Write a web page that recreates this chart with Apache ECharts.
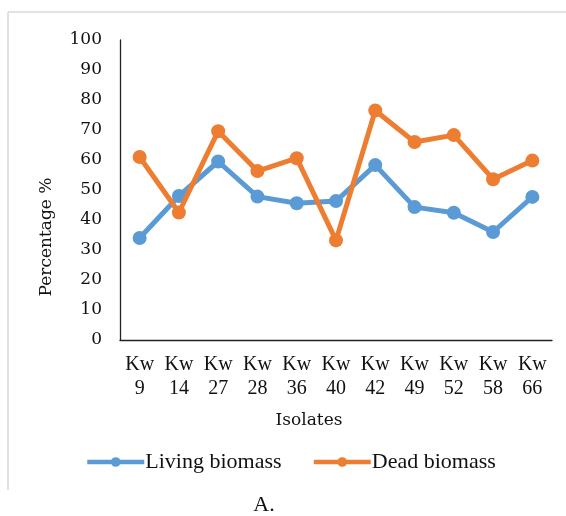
<!DOCTYPE html>
<html>
<head>
<meta charset="utf-8">
<script src="https://cdn.jsdelivr.net/npm/echarts@6/dist/echarts.min.js"></script>
<style>
  html, body { margin: 0; padding: 0; background: #fff; }
  #chart { width: 566px; height: 516px; }
</style>
</head>
<body>
<div id="chart"></div>
<script>
// Isolates on the category axis
const isolates = ['Kw\n9', 'Kw\n14', 'Kw\n27', 'Kw\n28', 'Kw\n36', 'Kw\n40', 'Kw\n42', 'Kw\n49', 'Kw\n52', 'Kw\n58', 'Kw\n66'];
// Percentage removed by each biomass type
const livingBiomass = [34, 48, 59.5, 47.8, 45.6, 46.3, 58.3, 44.3, 42.4, 36, 47.7];
const deadBiomass = [61, 42.5, 69.6, 56.3, 60.6, 33.2, 76.5, 66, 68.3, 53.6, 59.8];
// Y axis range
const yMin = 0, yMax = 100, yStep = 10;

const serif = '"Liberation Serif", "Times New Roman", serif';
const wideSerif = '"DejaVu Serif", serif';

const chart = echarts.init(document.getElementById('chart'), null, { renderer: 'canvas' });

chart.setOption({
  animation: false,
  backgroundColor: '#fff',
  grid: { left: 120, top: 40, right: 14, bottom: 176, containLabel: false },
  legend: {
    left: 80,
    top: 446,
    itemWidth: 57,
    itemHeight: 12,
    itemGap: 30,
    lineStyle: { width: 4.5 },
    textStyle: { fontFamily: serif, fontSize: 22, color: '#111', padding: [0, 0, 0, -4] },
    data: ['Living biomass', 'Dead biomass']
  },
  xAxis: {
    type: 'category',
    data: isolates,
    boundaryGap: true,
    axisLine: { lineStyle: { color: '#222', width: 1.3 } },
    axisTick: { show: false },
    axisLabel: {
      interval: 0,
      margin: 13,
      fontFamily: serif,
      fontSize: 20,
      lineHeight: 24,
      color: '#111'
    },
    splitLine: { show: false }
  },
  yAxis: {
    type: 'value',
    min: yMin,
    max: yMax,
    interval: yStep,
    axisLine: { show: true, lineStyle: { color: '#222', width: 1.3 } },
    axisTick: { show: false },
    axisLabel: { margin: 18, fontFamily: wideSerif, fontSize: 17, color: '#111' },
    splitLine: { show: false }
  },
  graphic: [
    { type: 'line', shape: { x1: 8, y1: 12, x2: 566, y2: 12 }, style: { stroke: '#d9d9d9', lineWidth: 1.5 } },
    { type: 'line', shape: { x1: 8, y1: 12, x2: 8, y2: 490 }, style: { stroke: '#d9d9d9', lineWidth: 1.5 } },
    {
      type: 'text', x: 47, y: 237, rotation: Math.PI / 2,
      style: { text: 'Percentage %', fontFamily: wideSerif, fontSize: 17, fill: '#111', align: 'center', verticalAlign: 'middle' }
    },
    {
      type: 'text', x: 309, y: 421,
      style: { text: 'Isolates', fontFamily: wideSerif, fontSize: 17, fill: '#111', align: 'center', verticalAlign: 'middle' }
    },
    {
      type: 'text', x: 264, y: 505,
      style: { text: 'A.', fontFamily: serif, fontSize: 22, fill: '#111', align: 'center', verticalAlign: 'middle' }
    }
  ],
  series: [
    {
      name: 'Living biomass',
      type: 'line',
      data: livingBiomass,
      symbol: 'circle',
      symbolSize: 14,
      color: '#5b9bd5',
      lineStyle: { width: 5, color: '#5b9bd5' },
      itemStyle: { color: '#5b9bd5' },
      z: 2
    },
    {
      name: 'Dead biomass',
      type: 'line',
      data: deadBiomass,
      symbol: 'circle',
      symbolSize: 14,
      color: '#ed7d31',
      lineStyle: { width: 5, color: '#ed7d31' },
      itemStyle: { color: '#ed7d31' },
      z: 3
    }
  ]
});
</script>
</body>
</html>
